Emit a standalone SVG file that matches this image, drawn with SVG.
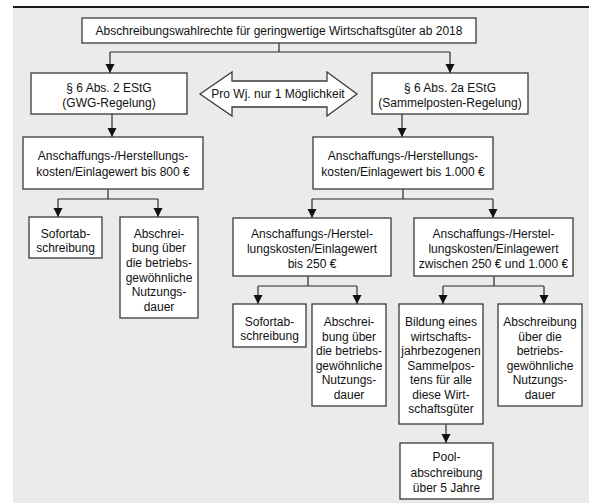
<svg xmlns="http://www.w3.org/2000/svg" width="589" height="503" viewBox="0 0 589 503">
<defs>
<marker id="ah" markerUnits="userSpaceOnUse" markerWidth="10" markerHeight="10" refX="9" refY="4.5" orient="auto">
<path d="M0,0 L9,4.5 L0,9 z" fill="#111"/>
</marker>
<style>
.box{fill:#fff;stroke:#3a3a3a;stroke-width:1.3}
.t{font-family:"Liberation Sans",Arial,sans-serif;font-size:12px;fill:#111;text-anchor:middle}
.c{fill:none;stroke:#2a2a2a;stroke-width:1.2}
.ca{fill:none;stroke:#2a2a2a;stroke-width:1.2;marker-end:url(#ah)}
</style>
</defs>
<rect x="13" y="8" width="576" height="495" fill="#ebebeb"/>
<line x1="13" y1="7" x2="589" y2="7" stroke="#1a1a1a" stroke-width="2"/>

<g id="connectors">
<path class="c" d="M279,43 V52 M110,52 H450"/>
<path class="ca" d="M110,52 V73"/>
<path class="ca" d="M450,52 V73"/>
<path class="ca" d="M112,114 V137"/>
<path class="ca" d="M402,114 V137"/>
<path class="c" d="M108,189 V199 M58,199 H158"/>
<path class="ca" d="M58,199 V217"/>
<path class="ca" d="M158,199 V217"/>
<path class="c" d="M403,189 V199 M312,199 H493"/>
<path class="ca" d="M312,199 V218"/>
<path class="ca" d="M493,199 V218"/>
<path class="c" d="M308,276 V286 M258,286 H357"/>
<path class="ca" d="M258,286 V304"/>
<path class="ca" d="M357,286 V304"/>
<path class="c" d="M494,276 V286 M443,286 H544"/>
<path class="ca" d="M443,286 V304"/>
<path class="ca" d="M544,286 V304"/>
<path class="ca" d="M446,424 V443"/>
</g>

<g id="n-top">
<rect class="box" x="82" y="18" width="394" height="25"/>
<text class="t" x="279" y="35">Abschreibungswahlrechte für geringwertige Wirtschaftsgüter ab 2018</text>
</g>

<g id="n-gwg">
<rect class="box" x="31" y="73" width="156" height="41"/>
<text class="t" x="109" y="91.5">§ 6 Abs. 2 EStG</text>
<text class="t" x="109" y="107">(GWG-Regelung)</text>
</g>

<g id="n-choice">
<polygon points="200,94 232,72 232,81 327,81 327,72 357,94 327,116 327,107 232,107 232,116" fill="#fff" stroke="#3a3a3a" stroke-width="1.3"/>
<text class="t" x="278" y="98">Pro Wj. nur 1 Möglichkeit</text>
</g>

<g id="n-sammel">
<rect class="box" x="372" y="73" width="156" height="41"/>
<text class="t" x="450" y="91.5">§ 6 Abs. 2a EStG</text>
<text class="t" x="450" y="107">(Sammelposten-Regelung)</text>
</g>

<g id="n-800">
<rect class="box" x="23" y="137" width="180" height="52"/>
<text class="t" x="113" y="160">Anschaffungs-/Herstellungs-</text>
<text class="t" x="113" y="176">kosten/Einlagewert bis 800 €</text>
</g>

<g id="n-1000">
<rect class="box" x="313" y="137" width="180" height="52"/>
<text class="t" x="403" y="160">Anschaffungs-/Herstellungs-</text>
<text class="t" x="403" y="176">kosten/Einlagewert bis 1.000 €</text>
</g>

<g id="n-sofort1">
<rect class="box" x="29" y="217" width="73" height="41"/>
<text class="t" x="65.5" y="237.5">Sofortab-</text>
<text class="t" x="65.5" y="252">schreibung</text>
</g>

<g id="n-nd1">
<rect class="box" x="120" y="217" width="78" height="101"/>
<text class="t" x="159" y="237.5">Abschrei-</text>
<text class="t" x="159" y="252.2">bung über</text>
<text class="t" x="159" y="266.9">die betriebs-</text>
<text class="t" x="159" y="281.6">gewöhnliche</text>
<text class="t" x="159" y="296.3">Nutzungs-</text>
<text class="t" x="159" y="311">dauer</text>
</g>

<g id="n-250">
<rect class="box" x="233" y="218" width="158" height="58"/>
<text class="t" x="312" y="237.5">Anschaffungs-/Herstel-</text>
<text class="t" x="312" y="252.5">lungskosten/Einlagewert</text>
<text class="t" x="312" y="267.5">bis 250 €</text>
</g>

<g id="n-zw">
<rect class="box" x="414" y="218" width="159" height="58"/>
<text class="t" x="493.5" y="237.5">Anschaffungs-/Herstel-</text>
<text class="t" x="493.5" y="252.5">lungskosten/Einlagewert</text>
<text class="t" x="493.5" y="267.5">zwischen 250 € und 1.000 €</text>
</g>

<g id="n-sofort2">
<rect class="box" x="233" y="304" width="73" height="43"/>
<text class="t" x="269.5" y="326">Sofortab-</text>
<text class="t" x="269.5" y="340">schreibung</text>
</g>

<g id="n-nd2">
<rect class="box" x="312" y="304" width="74" height="102"/>
<text class="t" x="349" y="326">Abschrei-</text>
<text class="t" x="349" y="340.5">bung über</text>
<text class="t" x="349" y="355">die betriebs-</text>
<text class="t" x="349" y="369.5">gewöhnliche</text>
<text class="t" x="349" y="384">Nutzungs-</text>
<text class="t" x="349" y="398.5">dauer</text>
</g>

<g id="n-bildung">
<rect class="box" x="399" y="304" width="84" height="120"/>
<text class="t" x="441" y="326">Bildung eines</text>
<text class="t" x="441" y="340.5">wirtschafts-</text>
<text class="t" x="441" y="355">jahrbezogenen</text>
<text class="t" x="441" y="369.5">Sammelpos-</text>
<text class="t" x="441" y="384">tens für alle</text>
<text class="t" x="441" y="398.5">diese Wirt-</text>
<text class="t" x="441" y="413">schaftsgüter</text>
</g>

<g id="n-nd3">
<rect class="box" x="498" y="304" width="84" height="102"/>
<text class="t" x="540" y="326">Abschreibung</text>
<text class="t" x="540" y="340.5">über die</text>
<text class="t" x="540" y="355">betriebs-</text>
<text class="t" x="540" y="369.5">gewöhnliche</text>
<text class="t" x="540" y="384">Nutzungs-</text>
<text class="t" x="540" y="398.5">dauer</text>
</g>

<g id="n-pool">
<rect class="box" x="400" y="443" width="93" height="56"/>
<text class="t" x="446.5" y="461">Pool-</text>
<text class="t" x="446.5" y="476.5">abschreibung</text>
<text class="t" x="446.5" y="492">über 5 Jahre</text>
</g>
</svg>
